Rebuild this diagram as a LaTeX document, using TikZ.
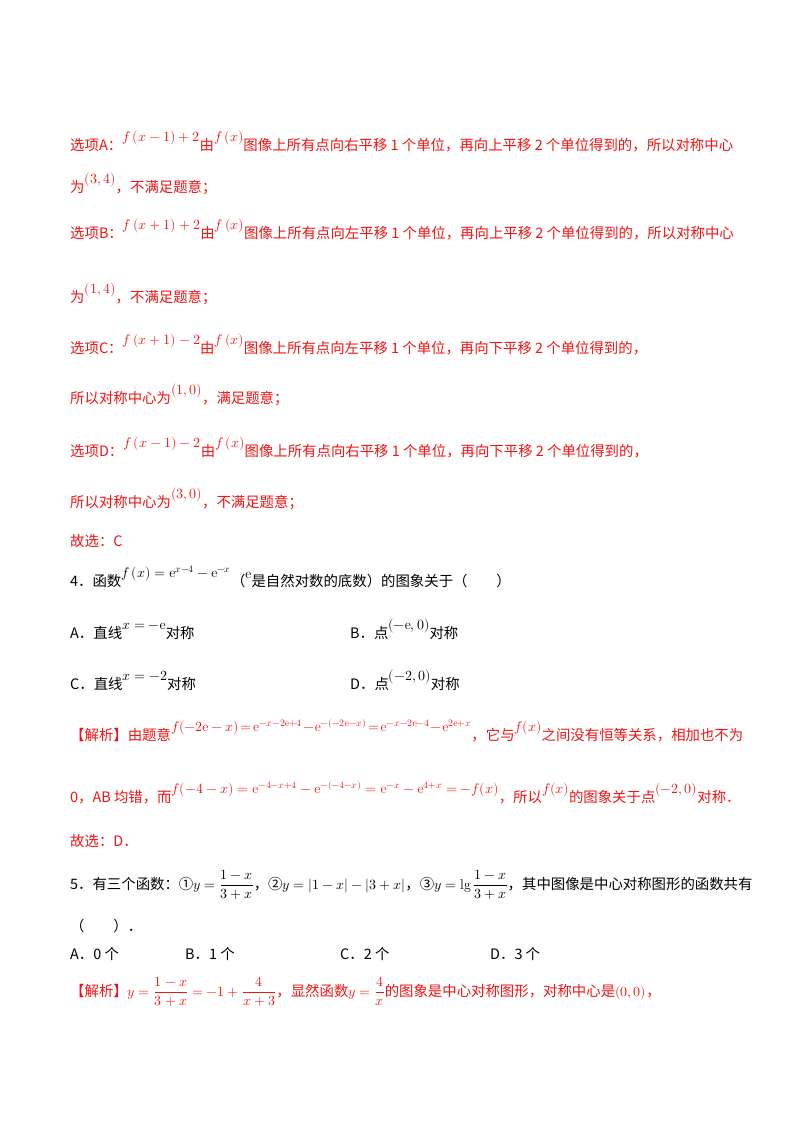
\documentclass[tikz,border=0pt]{standalone}
\usepackage{amsmath}
\usepackage{fontspec}
\usepackage{unicode-math}
\setmainfont{Noto Sans CJK SC}
\setmathfont{Latin Modern Math}
\setmathrm{Latin Modern Roman}
\definecolor{ans}{RGB}{240,20,20}
\newcommand{\RM}[1]{\raisebox{1.1ex}{\fontsize{14}{15}\selectfont$#1$}}
\newcommand{\IM}[1]{{\fontsize{14}{15}\selectfont$#1$}}
\begin{document}
\begin{tikzpicture}[x=1pt,y=-1pt,
  ln/.style={anchor=base west,inner sep=0pt,font=\fontsize{14.4}{16}\selectfont},
  rl/.style={ln,text=ans}]
\useasboundingbox (0,0) rectangle (800,1132);
\node[rl] (l1) at (70,150) {选项A：\RM{f\left(x-1\right)+2}由\RM{f\left(x\right)}图像上所有点向右平移 1 个单位，再向上平移 2 个单位得到的，所以对称中心};
\node[rl] (l2) at (70,192) {为\RM{(3,4)}，不满足题意；};
\node[rl] (l3) at (70,238) {选项B：\RM{f\left(x+1\right)+2}由\RM{f\left(x\right)}图像上所有点向左平移 1 个单位，再向上平移 2 个单位得到的，所以对称中心};
\node[rl] (l4) at (70,302) {为\RM{(1,4)}，不满足题意；};
\node[rl] (l5) at (70,353) {选项C：\RM{f\left(x+1\right)-2}由\RM{f\left(x\right)}图像上所有点向左平移 1 个单位，再向下平移 2 个单位得到的，};
\node[rl] (l6) at (70,403) {所以对称中心为\RM{(1,0)}，满足题意；};
\node[rl] (l7) at (70,456) {选项D：\RM{f\left(x-1\right)-2}由\RM{f\left(x\right)}图像上所有点向右平移 1 个单位，再向下平移 2 个单位得到的，};
\node[rl] (l8) at (70,507) {所以对称中心为\RM{(3,0)}，不满足题意；};
\node[rl] (l9) at (70,546) {故选：C};
\node[ln] (q4) at (70,586) {4．函数\RM{f\left(x\right)=\mathrm{e}^{x-4}-\mathrm{e}^{-x}}（\raisebox{0.9ex}{\IM{\mathrm{e}}}是自然对数的底数）的图象关于（\qquad）};
\node[ln] (oA) at (70,638) {A．直线\RM{x=-\mathrm{e}}对称};
\node[ln] (oB) at (350,638) {B．点\RM{(-\mathrm{e},0)}对称};
\node[ln] (oC) at (70,689) {C．直线\RM{x=-2}对称};
\node[ln] (oD) at (350,689) {D．点\RM{(-2,0)}对称};
\node[rl] (j1) at (70,740) {【解析】由题意\RM{f\!\left(-2\mathrm{e}-x\right)\!=\!\mathrm{e}^{-x-2\mathrm{e}+4}\!-\!\mathrm{e}^{-(-2\mathrm{e}-x)}\!=\!\mathrm{e}^{-x-2\mathrm{e}-4}\!-\!\mathrm{e}^{2\mathrm{e}+x}}，它与\RM{f(x)}之间没有恒等关系，相加也不为};
\node[rl] (j2) at (70,802) {0，AB 均错，而\RM{f(-4-x)=\mathrm{e}^{-4-x+4}-\mathrm{e}^{-(-4-x)}=\mathrm{e}^{-x}-\mathrm{e}^{4+x}=-f(x)}，所以\RM{f(x)}的图象关于点\RM{(-2,0)}对称．};
\node[rl] (j3) at (70,846) {故选：D．};
\node[ln] (q5) at (70,889) {5．有三个函数：①\IM{y=\dfrac{1-x}{3+x}}，②\IM{y=|1-x|-|3+x|}，③\IM{y=\lg\dfrac{1-x}{3+x}}，其中图像是中心对称图形的函数共有};
\node[ln] (q5b) at (70,931) {（\qquad）．};
\node[ln] (a5) at (70,959) {A．0 个};
\node[ln] (b5) at (185,959) {B．1 个};
\node[ln] (c5) at (340,959) {C．2 个};
\node[ln] (d5) at (490,959) {D．3 个};
\node[rl] (j5) at (70,996) {【解析】\IM{y=\dfrac{1-x}{3+x}=-1+\dfrac{4}{x+3}}，显然函数\IM{y=\dfrac{4}{x}}的图象是中心对称图形，对称中心是\IM{(0,0)}，};
\end{tikzpicture}
\end{document}
